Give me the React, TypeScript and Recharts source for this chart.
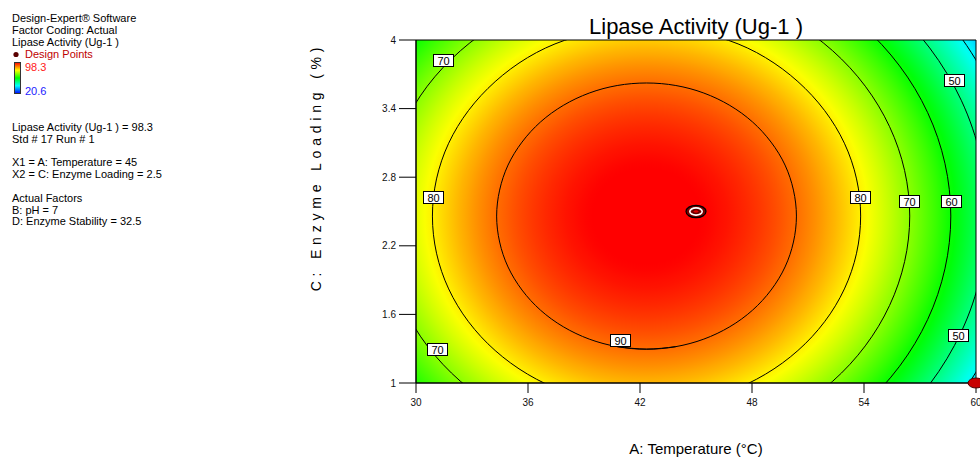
import React from 'react';
import {
  ComposedChart,
  Line,
  Scatter,
  XAxis,
  YAxis,
  ReferenceArea,
  ReferenceDot,
  Label,
} from 'recharts';

const FONT = "'Liberation Sans', Arial, Helvetica, sans-serif";

// axes
const xDomain = [30, 60];
const yDomain = [1, 4];
const xTicks = [30, 36, 42, 48, 54, 60];
const yTicks = [1, 1.6, 2.2, 2.8, 3.4, 4];

// observed response range and the colour ramp, low -> high
const responseRange = [20.6, 98.3];
const colorRamp = ['#0000ff', '#00ffff', '#00ff00', '#ffff00', '#ff0000'];

// fitted quadratic surface used for the shading: peak, stationary point, curvature per factor
const surfacePeak = 99.6;
const surfaceCenter = [42.35, 2.46];
const surfaceCurvature = [0.149, 7.083];

// contour traces as [temperature, enzyme loading]
// the closed 90 ring is traced finer and runs past its start so both spline ends overlap
const contour90 = [
  [40.78, 1.318], [42.35, 1.296], [43.92, 1.318], [45.42, 1.384], [46.81, 1.492],
  [48.03, 1.637], [49.02, 1.813], [49.77, 2.015], [50.22, 2.233], [50.38, 2.46],
  [50.22, 2.687], [49.77, 2.906], [49.02, 3.107], [48.03, 3.283], [46.81, 3.428],
  [45.42, 3.536], [43.92, 3.602], [42.35, 3.624], [40.78, 3.602], [39.28, 3.536],
  [37.89, 3.428], [36.67, 3.283], [35.68, 3.107], [34.93, 2.906], [34.48, 2.687],
  [34.32, 2.46], [34.48, 2.233], [34.93, 2.015], [35.68, 1.813], [36.67, 1.637],
  [37.89, 1.492], [39.28, 1.384], [40.78, 1.318], [42.35, 1.296], [43.92, 1.318],
];
const contour80 = [
  [42.35, 4.124], [37.96, 3.997], [34.24, 3.636], [31.75, 3.097], [30.88, 2.46],
  [31.75, 1.823], [34.24, 1.284], [37.96, 0.923], [42.35, 0.797], [46.74, 0.923],
  [50.46, 1.284], [52.95, 1.823], [53.82, 2.46], [52.95, 3.097], [50.46, 3.636],
  [46.74, 3.997], [42.35, 4.124],
];
const contour70 = [
  [28.26, 2.46], [29.33, 1.678], [32.38, 1.015], [36.96, 0.571], [42.35, 0.416],
  [47.74, 0.571], [52.32, 1.015], [55.37, 1.678], [56.45, 2.46], [55.37, 3.242],
  [52.32, 3.906], [47.74, 4.349], [42.35, 4.504], [36.96, 4.349], [32.38, 3.906],
  [29.33, 3.242], [28.26, 2.46],
];
const contour60 = [
  [26.05, 2.46], [27.29, 1.555], [30.82, 0.788], [36.11, 0.275], [42.35, 0.096],
  [48.59, 0.275], [53.88, 0.788], [57.41, 1.555], [58.65, 2.46], [57.41, 3.365],
  [53.88, 4.132], [48.59, 4.645], [42.35, 4.825], [36.11, 4.645], [30.82, 4.132],
  [27.29, 3.365], [26.05, 2.46],
];
const contour50 = [
  [24.11, 2.46], [25.49, 1.447], [29.45, 0.589], [35.37, 0.015], [42.35, -0.186],
  [49.33, 0.015], [55.25, 0.589], [59.21, 1.447], [60.6, 2.46], [59.21, 3.473],
  [55.25, 4.331], [49.33, 4.905], [42.35, 5.106], [35.37, 4.905], [29.45, 4.331],
  [25.49, 3.473], [24.11, 2.46],
];
const contour40 = [
  [22.35, 2.46], [23.87, 1.35], [28.21, 0.409], [34.7, -0.22], [42.35, -0.441],
  [50.0, -0.22], [56.49, 0.409], [60.83, 1.35], [62.35, 2.46], [60.83, 3.57],
  [56.49, 4.511], [50.0, 5.14], [42.35, 5.361], [34.7, 5.14], [28.21, 4.511],
  [23.87, 3.57], [22.35, 2.46],
];

const contours = [
  { level: 90, points: contour90 },
  { level: 80, points: contour80 },
  { level: 70, points: contour70 },
  { level: 60, points: contour60 },
  { level: 50, points: contour50 },
  { level: 40, points: contour40 },
].map((c) => ({ ...c, data: c.points.map(([x, y]) => ({ x, y })) }));

// boxed level tags sitting on the contours
const contourTags = [
  { level: 70, x: 31.45, y: 3.825 },
  { level: 70, x: 31.1, y: 1.3 },
  { level: 70, x: 56.41, y: 2.592 },
  { level: 80, x: 30.91, y: 2.627 },
  { level: 80, x: 53.78, y: 2.627 },
  { level: 90, x: 40.95, y: 1.376 },
  { level: 60, x: 58.66, y: 2.592 },
  { level: 50, x: 58.82, y: 3.65 },
  { level: 50, x: 59.04, y: 1.42 },
];

const designPoints = [
  { x: 45, y: 2.5, kind: 'current' },
  { x: 60, y: 1, kind: 'run' },
];

const headerLines = ['Design-Expert® Software', 'Factor Coding: Actual', 'Lipase Activity (Ug-1 )'];
const infoLines = [
  { text: 'Lipase Activity (Ug-1 ) = 98.3', y: 131 },
  { text: 'Std # 17 Run # 1', y: 142.8 },
  { text: 'X1 = A: Temperature = 45', y: 166.4 },
  { text: 'X2 = C: Enzyme Loading = 2.5', y: 178.2 },
  { text: 'Actual Factors', y: 201.8 },
  { text: 'B: pH = 7', y: 213.6 },
  { text: 'D: Enzyme Stability = 32.5', y: 225.4 },
];

function hexToRgb(hex: string) {
  const n = parseInt(hex.slice(1), 16);
  return [(n >> 16) & 255, (n >> 8) & 255, n & 255];
}

function rampColor(v: number) {
  const [lo, hi] = responseRange;
  const segs = colorRamp.length - 1;
  const t = Math.min(1, Math.max(0, (v - lo) / (hi - lo))) * segs;
  const i = Math.min(segs - 1, Math.floor(t));
  const f = t - i;
  const a = hexToRgb(colorRamp[i]);
  const b = hexToRgb(colorRamp[i + 1]);
  const c = a.map((ch, k) => Math.round(ch + (b[k] - ch) * f));
  return `rgb(${c[0]},${c[1]},${c[2]})`;
}

// elliptical radial fill: value falls off with the square of the distance from the stationary point
function SurfaceShade(props: any) {
  const { x, y, width, height } = props;
  const ppx = width / (xDomain[1] - xDomain[0]);
  const ppy = height / (yDomain[1] - yDomain[0]);
  const cx = x + (surfaceCenter[0] - xDomain[0]) * ppx;
  const cy = y + (yDomain[1] - surfaceCenter[1]) * ppy;
  const span = surfacePeak - responseRange[0];
  const r = Math.sqrt(span / surfaceCurvature[0]) * ppx;
  const sy = (Math.sqrt(surfaceCurvature[0] / surfaceCurvature[1]) * ppy) / ppx;
  const steps = 64;
  const stops = [];
  for (let i = 0; i <= steps; i++) {
    const o = i / steps;
    stops.push(<stop key={i} offset={o} stopColor={rampColor(surfacePeak - span * o * o)} />);
  }
  return (
    <g>
      <defs>
        <radialGradient
          id="surfaceFill"
          gradientUnits="userSpaceOnUse"
          cx={0}
          cy={0}
          r={r}
          gradientTransform={`translate(${cx} ${cy}) scale(1 ${sy})`}
        >
          {stops}
        </radialGradient>
      </defs>
      <rect x={x} y={y} width={width} height={height} fill="url(#surfaceFill)" />
    </g>
  );
}

function ContourTag({ cx, cy, text }: any) {
  if (cx == null || cy == null) return null;
  const bx = Math.round(cx) - 10;
  const by = Math.round(cy) - 6;
  return (
    <g>
      <rect x={bx + 0.5} y={by + 0.5} width={20} height={12} fill="#fff" stroke="#000" strokeWidth={1} />
      <text x={bx + 10.5} y={by + 10.5} textAnchor="middle" fontSize={11} fontFamily={FONT} fill="#000">
        {text}
      </text>
    </g>
  );
}

function DesignMarker(props: any) {
  const { cx, cy, payload } = props;
  if (payload.kind === 'run') {
    return <ellipse cx={cx} cy={cy} rx={8} ry={5} fill="#c80000" stroke="#4a0000" strokeWidth={1} />;
  }
  return (
    <g>
      <ellipse cx={cx} cy={cy} rx={10} ry={6.2} fill="#7a0000" stroke="#000" strokeWidth={1.2} />
      <ellipse cx={cx} cy={cy} rx={6.2} ry={3.6} fill="none" stroke="#fff" strokeWidth={1.6} />
      <ellipse cx={cx} cy={cy} rx={3} ry={1.8} fill="#e00000" stroke="#300" strokeWidth={0.8} />
    </g>
  );
}

function XTitle(props: any) {
  const vb = props.viewBox || { x: 416, y: 383, width: 560 };
  return (
    <text x={vb.x + vb.width / 2} y={vb.y + 71} textAnchor="middle" fontSize={15} fontFamily={FONT} fill="#000">
      A: Temperature (°C)
    </text>
  );
}

function YTitle() {
  return (
    <text
      x={321}
      y={167}
      transform="rotate(-90 321 167)"
      textAnchor="middle"
      fontSize={14}
      letterSpacing={4.8}
      fontFamily={FONT}
      fill="#000"
    >
      C: Enzyme Loading (%)
    </text>
  );
}

const tickStyle = { fill: '#111', fontSize: 10, fontFamily: FONT };

export default function App() {
  return (
    <div style={{ position: 'absolute', left: 0, top: 0, width: 980, height: 459, background: '#fff' }}>
      <ComposedChart width={980} height={459} margin={{ top: 40, right: 4, bottom: 46, left: 356 }}>
        <XAxis
          type="number"
          dataKey="x"
          domain={xDomain}
          ticks={xTicks}
          interval={0}
          allowDataOverflow
          height={30}
          tickSize={10}
          tickMargin={6}
          tick={tickStyle}
          axisLine={{ stroke: '#000' }}
          tickLine={{ stroke: '#000' }}
        >
          <Label content={XTitle} />
        </XAxis>
        <YAxis
          type="number"
          dataKey="y"
          domain={yDomain}
          ticks={yTicks}
          interval={0}
          allowDataOverflow
          width={60}
          tickSize={17}
          tickMargin={3}
          tick={tickStyle}
          axisLine={{ stroke: '#000' }}
          tickLine={{ stroke: '#000' }}
        >
          <Label content={YTitle} />
        </YAxis>
        <XAxis xAxisId="pts" type="number" dataKey="x" domain={xDomain} hide />
        <YAxis yAxisId="pts" type="number" dataKey="y" domain={yDomain} hide />

        <ReferenceArea x1={30} x2={60} y1={1} y2={4} shape={SurfaceShade} />

        {contours.map((c) => (
          <Line
            key={c.level}
            data={c.data}
            dataKey="y"
            type="natural"
            stroke="#000"
            strokeWidth={1}
            dot={false}
            activeDot={false}
            isAnimationActive={false}
          />
        ))}

        <ReferenceArea x1={30} x2={60} y1={1} y2={4} fill="none" stroke="#000" strokeWidth={1} />

        {contourTags.map((t, i) => (
          <ReferenceDot
            key={i}
            x={t.x}
            y={t.y}
            shape={(p: any) => <ContourTag {...p} text={String(t.level)} />}
          />
        ))}

        <Scatter
          data={designPoints}
          xAxisId="pts"
          yAxisId="pts"
          shape={DesignMarker}
          isAnimationActive={false}
        />
      </ComposedChart>

      <svg
        width={980}
        height={459}
        style={{ position: 'absolute', left: 0, top: 0, pointerEvents: 'none' }}
        fontFamily={FONT}
      >
        <defs>
          <linearGradient id="rampBar" x1="0" y1="0" x2="0" y2="1">
            {[...colorRamp].reverse().map((c, i) => (
              <stop key={i} offset={i / (colorRamp.length - 1)} stopColor={c} />
            ))}
          </linearGradient>
        </defs>
        <text x={696} y={34} textAnchor="middle" fontSize={22} fill="#000">
          Lipase Activity (Ug-1 )
        </text>

        {headerLines.map((t, i) => (
          <text key={t} x={12} y={22 + i * 12} fontSize={11} fill="#000">
            {t}
          </text>
        ))}
        <circle cx={16} cy={54.5} r={2.6} fill="#5a0000" />
        <text x={25} y={58} fontSize={11} fill="#c00000">
          Design Points
        </text>
        <rect x={14.5} y={62.5} width={6} height={31} fill="url(#rampBar)" stroke="#333" strokeWidth={1} />
        <text x={25} y={71} fontSize={11} fill="#ff2020">
          {responseRange[1]}
        </text>
        <text x={25} y={95} fontSize={11} fill="#1a1aff">
          {responseRange[0]}
        </text>

        {infoLines.map((l) => (
          <text key={l.text} x={12} y={l.y} fontSize={11} fill="#000">
            {l.text}
          </text>
        ))}
      </svg>
    </div>
  );
}
